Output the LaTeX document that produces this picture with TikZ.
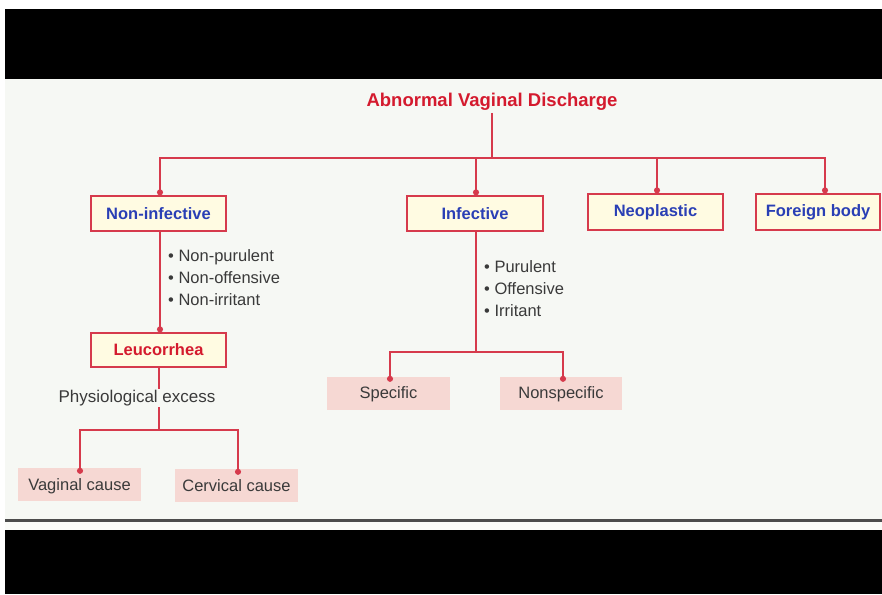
\documentclass[tikz,border=0pt]{standalone}
\usepackage{fontspec}
\setmainfont{Liberation Sans}
\usetikzlibrary{arrows.meta}
\definecolor{bgc}{HTML}{F6F8F4}
\definecolor{titlered}{HTML}{D41A2E}
\definecolor{linered}{HTML}{D63A4C}
\definecolor{boxblue}{HTML}{2A3FB5}
\definecolor{boxfill}{HTML}{FFFBE2}
\definecolor{pinkfill}{HTML}{F6D8D3}
\definecolor{txtgray}{HTML}{3A3A3A}
\tikzset{
  catbox/.style={draw=linered, line width=1.3pt, fill=boxfill, minimum height=35pt,
    inner sep=0pt, font=\fontsize{16.5}{19}\selectfont\bfseries, text=boxblue},
  leafbox/.style={fill=pinkfill, minimum width=123pt, minimum height=33pt, inner sep=0pt,
    font=\fontsize{16.5}{19}\selectfont, text=txtgray, text depth=3.5pt},
  conn/.style={draw=linered, line width=1.3pt},
  arr/.style={conn, -{Circle[length=6pt]}},
  bullets/.style={align=left, inner sep=0pt, font=\fontsize{16.5}{22}\selectfont, text=txtgray},
}
\begin{document}
\begin{tikzpicture}[x=1pt,y=-1pt]
\useasboundingbox (0,0) rectangle (882,594);
\fill[white] (0,0) rectangle (882,594);
\fill[black] (5,9) rectangle (882,79);
\fill[bgc] (5,79) rectangle (882,519);
\fill[black!70] (5,519) rectangle (882,522);
\fill[bgc!60!white] (5,522) rectangle (882,530);
\fill[black] (5,530) rectangle (882,594);

\begin{scope}
\clip (5,79) rectangle (882,519);
\node[font=\fontsize{18.5}{22}\selectfont\bfseries, text=titlered, inner sep=2pt] (title) at (492,102) {Abnormal Vaginal Discharge};

\node[catbox, minimum width=135pt] (ni) at (158.5,213.5) {Non-infective};
\node[catbox, minimum width=136pt] (inf) at (475,213.5) {Infective};
\node[catbox, minimum width=135pt, minimum height=36pt] (neo) at (655.5,212) {Neoplastic};
\node[catbox, minimum width=124pt, minimum height=36pt] (fb) at (818,212) {Foreign body};
\node[catbox, minimum width=135pt, minimum height=34pt, text=titlered] (leu) at (158.5,350) {Leucorrhea};

\node[leafbox, text height=16pt] (vag) at (79.5,484.5) {Vaginal cause};
\node[leafbox, text height=16pt] (cer) at (236.5,485.5) {Cervical cause};
\node[leafbox, text height=14pt] (spec) at (388.5,393.5) {Specific};
\node[leafbox, text height=14pt, minimum width=122pt] (nspec) at (561,393.5) {Nonspecific};

\coordinate (jt) at (492,158);
\coordinate (jl) at (159,430);
\coordinate (ji) at (476,352);

\draw[conn] (title.south) -- (jt);
\draw[arr] (jt) -| ([xshift=1.5pt]ni.north);
\draw[arr] (jt) -| ([xshift=1pt]inf.north);
\draw[arr] (jt) -| ([xshift=1.5pt]neo.north);
\draw[arr] (jt) -| ([xshift=7pt]fb.north);

\draw[arr] ([xshift=1.5pt]ni.south) -- ([xshift=1.5pt]leu.north);
\draw[arr] ([xshift=1pt]inf.south) -- (ji) -| ([xshift=1.5pt, yshift=-5pt]spec.north);
\draw[arr] (ji) -| ([xshift=2pt, yshift=-5pt]nspec.north);
\draw[arr] ([xshift=0.5pt]leu.south) -- (jl) -| ([xshift=0.5pt, yshift=-6pt]vag.north);
\draw[arr] (jl) -| ([xshift=1.5pt, yshift=-6pt]cer.north);

\node[fill=bgc, inner sep=1pt, font=\fontsize{17}{20}\selectfont, text=txtgray] (phys) at (137,398) {Physiological excess};

\node[bullets, anchor=north west] (nib) at (168,249) {• Non-purulent\\• Non-offensive\\• Non-irritant};
\node[bullets, anchor=north west] (infb) at (484,260) {• Purulent\\• Offensive\\• Irritant};
\end{scope}
\end{tikzpicture}
\end{document}
